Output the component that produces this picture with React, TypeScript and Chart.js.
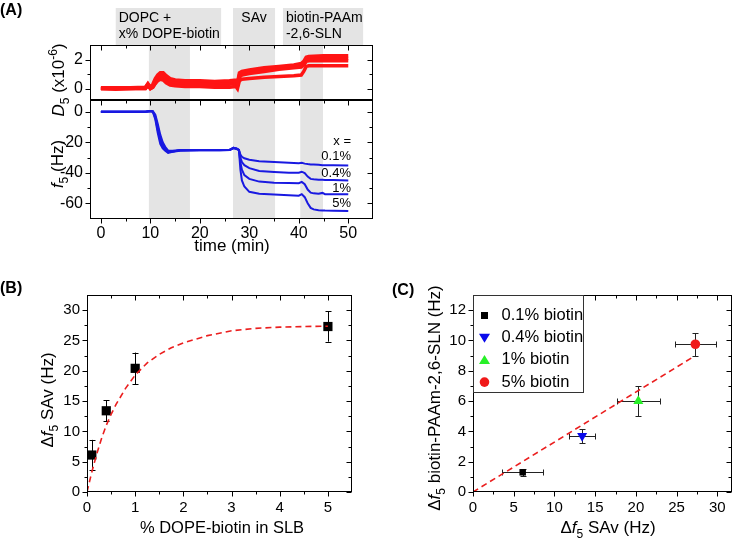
import React, { useEffect, useRef } from "react";
import { Chart, registerables } from "chart.js";
Chart.register(...registerables);

const FONT = '"Liberation Sans", Arial, Helvetica, sans-serif';

// ---------- Panel A data ----------
const timeD5 = [0, 3, 6, 9, 9.5, 10, 10.5, 11, 11.5, 12, 12.6, 13.2, 14, 15, 17, 20, 23, 26, 27.3, 27.6, 28, 28.5, 30, 33, 36, 39, 40.5, 41, 41.5, 42, 45, 48, 50];
const d5TraceA = [0.05, 0.05, 0.05, 0.1, 0.35, 0.1, 0.3, 0.7, 0.95, 1.1, 1.1, 0.9, 0.7, 0.6, 0.55, 0.55, 0.5, 0.55, 0.6, 0.4, 1.1, 1.2, 1.3, 1.45, 1.55, 1.65, 1.75, 1.9, 2.2, 2.25, 2.3, 2.3, 2.3];
const d5TraceB = [0, -0.05, 0, 0.05, 0.3, 0.05, 0.2, 0.55, 0.8, 0.9, 0.9, 0.75, 0.55, 0.45, 0.4, 0.4, 0.4, 0.45, 0.5, 0.3, 0.95, 1.1, 1.2, 1.35, 1.45, 1.55, 1.6, 1.75, 2.05, 2.1, 2.1, 2.1, 2.1];
const d5TraceC = [0, 0, 0, 0, 0.25, 0, 0.1, 0.4, 0.65, 0.75, 0.75, 0.55, 0.35, 0.3, 0.25, 0.25, 0.25, 0.3, 0.35, 0.15, 0.8, 0.95, 1.05, 1.2, 1.35, 1.45, 1.5, 1.65, 1.9, 1.95, 1.95, 1.95, 1.95];
const d5TraceD = [0, 0, 0, 0, 0.2, 0, 0.1, 0.35, 0.55, 0.65, 0.6, 0.4, 0.25, 0.2, 0.15, 0.15, 0.1, 0.1, 0.15, 0.0, 0.55, 0.65, 0.7, 0.8, 0.85, 0.9, 0.95, 1.2, 1.55, 1.6, 1.6, 1.6, 1.6];

const timeF5 = [0, 3, 6, 9, 10, 10.5, 11, 11.5, 12, 12.5, 13, 13.6, 14.5, 16, 20, 24, 26, 26.8, 27.4, 27.9, 28.2, 28.5, 29, 30, 32, 35, 38, 40, 40.6, 41.2, 41.8, 42.4, 43, 44, 44.8, 45.3, 47, 50];
const f5Biotin01 = [0, 0, 0, 0, 0.5, 0.3, -2, -8, -15, -20, -23, -25.5, -25.5, -25, -25, -25, -25, -24, -24, -25, -28, -29.5, -30.5, -31.5, -32.5, -33, -33.5, -33.7, -33.5, -34, -34.3, -34.5, -34.6, -34.8, -35, -35, -35, -35.2];
const f5Biotin04 = [0, 0, 0, 0, 0.5, 0.2, -3, -10, -17, -21.5, -24, -26.5, -26, -25.2, -25, -25, -25, -23.8, -24.2, -25, -30, -33, -35, -37, -38.8, -39.5, -40, -40, -39.3, -40.2, -42.5, -44, -44.3, -44.5, -44.6, -44.7, -44.8, -45];
const f5Biotin1 = [0, 0, 0, 0, 0.4, 0, -4, -12, -19, -23, -25, -26.5, -26, -25.3, -25.2, -25.2, -25, -23.6, -24.3, -25, -33, -38, -41.5, -44, -45.8, -46.5, -46.7, -46.8, -46, -47.5, -51, -53, -53.5, -53.8, -53.2, -54, -54, -54.1];
const f5Biotin5 = [0, 0, 0, 0, 0.4, 0, -5, -14, -21, -24, -25.5, -27, -26.3, -25.5, -25.3, -25.2, -25.1, -23.5, -24.5, -25, -38, -45, -49, -52.5, -53.8, -54.2, -54.7, -55, -54, -56, -60, -63, -64, -64.5, -64.7, -64.8, -64.9, -65];

const concLabels = ["x =", "0.1%", "0.4%", "1%", "5%"];
const bandStarts = [9.7, 26.7, 40.3];
const bandEnds = [18.0, 35.2, 44.9];
const headerStarts = [3.0, 26.7, 36.8];
const headerEnds = [24.3, 35.2, 53.0];
const headerLines = [["DOPC +", "x% DOPE-biotin"], ["SAv"], ["biotin-PAAm", "-2,6-SLN"]];

const timeTicks = [0, 10, 20, 30, 40, 50];
const timeMinor = [5, 15, 25, 35, 45];
const d5Ticks = [0, 2];
const d5Minor = [1];
const f5Ticks = [0, -20, -40, -60];
const f5Minor = [-10, -30, -50];

// ---------- Panel B data ----------
const biotinPct = [0.1, 0.4, 1, 5];
const savShift = [6.1, 13.4, 20.4, 27.3];
const savErr = [2.5, 1.7, 2.6, 2.5];
const fitX = [0, 0.1, 0.2, 0.3, 0.4, 0.5, 0.6, 0.8, 1.0, 1.25, 1.5, 1.75, 2, 2.5, 3, 3.5, 4, 4.5, 5];
const fitY = [0, 3.3, 6.2, 8.8, 11.0, 12.8, 14.4, 17.1, 19.3, 21.3, 22.7, 23.8, 24.6, 25.8, 26.6, 27.0, 27.2, 27.3, 27.35];
const bXTicks = [0, 1, 2, 3, 4, 5];
const bXMinor = [0.5, 1.5, 2.5, 3.5, 4.5];
const bYTicks = [0, 5, 10, 15, 20, 25, 30];
const bYMinor = [2.5, 7.5, 12.5, 17.5, 22.5, 27.5];

// ---------- Panel C data ----------
const cLabels = ["0.1% biotin", "0.4% biotin", "1% biotin", "5% biotin"];
const cSav = [6.1, 13.4, 20.3, 27.3];
const cSavErr = [2.5, 1.6, 2.6, 2.5];
const cSln = [1.3, 3.7, 6.0, 9.75];
const cSlnErr = [0.22, 0.45, 1.0, 0.75];
const cFitX = [0, 27.0];
const cFitY = [0, 8.9];
const cXTicks = [0, 5, 10, 15, 20, 25, 30];
const cXMinor = [2.5, 7.5, 12.5, 17.5, 22.5, 27.5];
const cYTicks = [0, 2, 4, 6, 8, 10, 12];
const cYMinor = [1, 3, 5, 7, 9, 11];

// ---------- helpers ----------
type Seg = { t: string; it?: boolean; sub?: boolean; sup?: boolean };

function drawRich(ctx: CanvasRenderingContext2D, segs: Seg[], cx: number, cy: number, size: number, rotate: boolean) {
  ctx.save();
  ctx.translate(cx, cy);
  if (rotate) ctx.rotate(-Math.PI / 2);
  const fontFor = (s: Seg) => `${s.it ? "italic " : ""}${s.sub || s.sup ? Math.round(size * 0.7) : size}px ${FONT}`;
  let w = 0;
  for (const s of segs) {
    ctx.font = fontFor(s);
    w += ctx.measureText(s.t).width;
  }
  let x = -w / 2;
  ctx.fillStyle = "#000";
  ctx.textBaseline = "alphabetic";
  ctx.textAlign = "left";
  for (const s of segs) {
    ctx.font = fontFor(s);
    const dy = s.sub ? size * 0.28 : s.sup ? -size * 0.42 : 0;
    ctx.fillText(s.t, x, size * 0.36 + dy);
    x += ctx.measureText(s.t).width;
  }
  ctx.restore();
}

function pts(xs: number[], ys: number[]) {
  return xs.map((x, i) => ({ x, y: ys[i] }));
}

function axis(min: number, max: number, ticks: number[], pad: number, fit: (s: any) => void, size = 15, show = true) {
  return {
    type: "linear",
    min,
    max,
    display: true,
    grid: { display: false, drawTicks: false },
    border: { display: false },
    ticks: {
      display: show,
      color: "#000",
      font: { family: FONT, size },
      padding: pad,
      autoSkip: false,
      maxRotation: 0,
      callback: (v: any) => String(v),
    },
    afterBuildTicks: (s: any) => {
      s.ticks = ticks.map((v) => ({ value: v }));
    },
    afterFit: fit,
  };
}

function framePlugin(o: { xMaj: number[]; xMin: number[]; yMaj: number[]; yMin: number[]; top: boolean; bottom: boolean }) {
  return {
    id: "frame",
    afterDatasetsDraw(chart: any) {
      const { ctx, chartArea: a, scales } = chart;
      const x = scales.x, y = scales.y;
      ctx.save();
      ctx.strokeStyle = "#000";
      ctx.lineWidth = 1;
      const L = Math.round(a.left) + 0.5, R = Math.round(a.right) - 0.5, T = Math.round(a.top) + 0.5, B = Math.round(a.bottom) - 0.5;
      ctx.strokeRect(L, T, R - L, B - T);
      ctx.beginPath();
      const xt = (vals: number[], len: number) => {
        for (const v of vals) {
          const p = Math.round(x.getPixelForValue(v)) + 0.5;
          if (o.bottom) { ctx.moveTo(p, B); ctx.lineTo(p, B + len); }
          if (o.top) { ctx.moveTo(p, T); ctx.lineTo(p, T + len); }
        }
      };
      const yt = (vals: number[], len: number) => {
        for (const v of vals) {
          const p = Math.round(y.getPixelForValue(v)) + 0.5;
          ctx.moveTo(L - len, p); ctx.lineTo(L, p);
          ctx.moveTo(R - len, p); ctx.lineTo(R, p);
        }
      };
      xt(o.xMaj, 5); xt(o.xMin, 3); yt(o.yMaj, 5); yt(o.yMin, 3);
      ctx.stroke();
      ctx.restore();
    },
  };
}

const bandPlugin = {
  id: "bands",
  beforeDatasetsDraw(chart: any) {
    const { ctx, chartArea: a, scales } = chart;
    ctx.save();
    ctx.fillStyle = "#e4e4e4";
    bandStarts.forEach((s, i) => {
      const x1 = scales.x.getPixelForValue(s), x2 = scales.x.getPixelForValue(bandEnds[i]);
      ctx.fillRect(x1, a.top, x2 - x1, a.bottom - a.top);
    });
    ctx.restore();
  },
};

const baseOpts = (padding: any, scales: any) => ({
  responsive: false,
  animation: false,
  events: [],
  layout: { padding },
  plugins: { legend: { display: false }, tooltip: { enabled: false } },
  scales,
});

export default function App() {
  const r1 = useRef<HTMLCanvasElement>(null);
  const r2 = useRef<HTMLCanvasElement>(null);
  const r3 = useRef<HTMLCanvasElement>(null);
  const r4 = useRef<HTMLCanvasElement>(null);

  useEffect(() => {
    const charts: Chart[] = [];
    const red = "rgb(255,20,20)";
    const blue = "rgb(25,25,225)";

    // ---- A top: D5 ----
    charts.push(
      new Chart(r1.current as HTMLCanvasElement, {
        type: "scatter",
        data: {
          datasets: [d5TraceA, d5TraceB, d5TraceC, d5TraceD].map((ys) => ({
            data: pts(timeD5, ys),
            showLine: true,
            borderColor: red,
            borderWidth: 3.5,
            pointRadius: 0,
            tension: 0,
          })),
        },
        options: {
          ...baseOpts({ left: 0, top: 45, right: 365, bottom: 438 }, {
            x: { ...axis(-2.2, 55, timeTicks, 0, () => {}, 16, false), display: false },
            y: axis(-0.8, 3.05, d5Ticks, 7, (s: any) => { s.width = 90; }, 16),
          }),
        } as any,
        plugins: [
          bandPlugin,
          framePlugin({ xMaj: timeTicks, xMin: timeMinor, yMaj: d5Ticks, yMin: d5Minor, top: true, bottom: false }),
          {
            id: "headerA",
            afterDraw(chart: any) {
              const { ctx, scales } = chart;
              ctx.save();
              headerStarts.forEach((s, i) => {
                const x1 = scales.x.getPixelForValue(s), x2 = scales.x.getPixelForValue(headerEnds[i]);
                ctx.fillStyle = "#e4e4e4";
                ctx.fillRect(x1, 8, x2 - x1, 37);
                ctx.fillStyle = "#000";
                ctx.font = `14px ${FONT}`;
                ctx.textBaseline = "middle";
                const lines = headerLines[i];
                lines.forEach((t, j) => {
                  if (lines.length === 1) {
                    ctx.textAlign = "center";
                    ctx.fillText(t, (x1 + x2) / 2, 18);
                  } else {
                    ctx.textAlign = "left";
                    ctx.fillText(t, x1 + 3, 18 + j * 16);
                  }
                });
              });
              ctx.font = `bold 16px ${FONT}`;
              ctx.textAlign = "left";
              ctx.textBaseline = "alphabetic";
              ctx.fillText("(A)", 0, 15);
              drawRich(ctx, [{ t: "D", it: true }, { t: "5", sub: true }, { t: " (x10" }, { t: "-6", sup: true }, { t: ")" }], 58, 80, 17, true);
              ctx.restore();
            },
          },
        ],
      } as any)
    );

    // ---- A bottom: f5 ----
    charts.push(
      new Chart(r2.current as HTMLCanvasElement, {
        type: "scatter",
        data: {
          datasets: [f5Biotin01, f5Biotin04, f5Biotin1, f5Biotin5].map((ys) => ({
            data: pts(timeF5, ys),
            showLine: true,
            borderColor: blue,
            borderWidth: 2,
            pointRadius: 0,
            tension: 0,
          })),
        },
        options: {
          ...baseOpts({ left: 0, top: 100, right: 365, bottom: 289 }, {
            x: axis(-2.2, 55, timeTicks, 5, (s: any) => { s.height = 30; }, 16),
            y: axis(-70.3, 7.7, f5Ticks, 7, (s: any) => { s.width = 90; }, 16),
          }),
        } as any,
        plugins: [
          bandPlugin,
          framePlugin({ xMaj: timeTicks, xMin: timeMinor, yMaj: f5Ticks, yMin: f5Minor, top: true, bottom: true }),
          {
            id: "labelsA",
            afterDraw(chart: any) {
              const { ctx, chartArea: a } = chart;
              ctx.save();
              ctx.fillStyle = "#000";
              ctx.font = `13px ${FONT}`;
              ctx.textAlign = "right";
              ctx.textBaseline = "middle";
              const ys = [141, 156, 173, 188, 203];
              concLabels.forEach((t, i) => ctx.fillText(t, a.right - 22, ys[i]));
              ctx.font = `17px ${FONT}`;
              ctx.textAlign = "center";
              ctx.textBaseline = "alphabetic";
              ctx.fillText("time (min)", 232, 251);
              drawRich(ctx, [{ t: "f", it: true }, { t: "5", sub: true }, { t: " (Hz)" }], 57, 164, 17, true);
              ctx.restore();
            },
          },
        ],
      } as any)
    );

    // ---- B ----
    charts.push(
      new Chart(r3.current as HTMLCanvasElement, {
        type: "scatter",
        data: {
          datasets: [
            {
              data: pts(fitX, fitY),
              showLine: true,
              borderColor: "rgb(235,30,30)",
              borderWidth: 1.6,
              borderDash: [6, 4],
              pointRadius: 0,
              order: 0,
            },
            {
              data: pts(biotinPct, savShift),
              pointStyle: "rect",
              pointRadius: 6.5,
              pointBackgroundColor: "#000",
              pointBorderColor: "#000",
              pointBorderWidth: 0,
              order: 1,
            },
          ],
        },
        options: {
          ...baseOpts({ left: 0, top: 295, right: 386, bottom: 16 }, {
            x: axis(0, 5.5, bXTicks, 7, (s: any) => { s.height = 30; }),
            y: axis(0, 32.5, bYTicks, 7, (s: any) => { s.width = 87; }),
          }),
        } as any,
        plugins: [
          {
            id: "errB",
            beforeDatasetsDraw(chart: any) {
              const { ctx, scales } = chart;
              ctx.save();
              ctx.strokeStyle = "#000";
              ctx.lineWidth = 1;
              ctx.beginPath();
              biotinPct.forEach((xv, i) => {
                const px = Math.round(scales.x.getPixelForValue(xv)) + 0.5;
                const y1 = scales.y.getPixelForValue(savShift[i] - savErr[i]);
                const y2 = scales.y.getPixelForValue(savShift[i] + savErr[i]);
                ctx.moveTo(px, y1); ctx.lineTo(px, y2);
                ctx.moveTo(px - 3, Math.round(y1) + 0.5); ctx.lineTo(px + 3, Math.round(y1) + 0.5);
                ctx.moveTo(px - 3, Math.round(y2) + 0.5); ctx.lineTo(px + 3, Math.round(y2) + 0.5);
              });
              ctx.stroke();
              ctx.restore();
            },
          },
          framePlugin({ xMaj: bXTicks, xMin: bXMinor, yMaj: bYTicks, yMin: bYMinor, top: true, bottom: true }),
          {
            id: "titlesB",
            afterDraw(chart: any) {
              const { ctx } = chart;
              ctx.save();
              ctx.fillStyle = "#000";
              ctx.font = `bold 16px ${FONT}`;
              ctx.textAlign = "left";
              ctx.fillText("(B)", 0, 293);
              ctx.font = `16.5px ${FONT}`;
              ctx.textAlign = "center";
              ctx.fillText("% DOPE-biotin in SLB", 222, 533);
              drawRich(ctx, [{ t: "Δ" }, { t: "f", it: true }, { t: "5", sub: true }, { t: " SAv (Hz)" }], 47, 400, 17, true);
              ctx.restore();
            },
          },
        ],
      } as any)
    );

    // ---- C ----
    const cColors = ["#000000", "rgb(10,10,235)", "rgb(40,240,40)", "rgb(240,25,25)"];
    const cStyles = ["rect", "triangle", "triangle", "circle"];
    const cRot = [0, 180, 0, 0];
    const cRad = [4.6, 5.8, 5.8, 4.8];
    charts.push(
      new Chart(r4.current as HTMLCanvasElement, {
        type: "scatter",
        data: {
          datasets: [
            {
              data: pts(cFitX, cFitY),
              showLine: true,
              borderColor: "rgb(235,30,30)",
              borderWidth: 1.6,
              borderDash: [6, 4],
              pointRadius: 0,
              order: 0,
            },
            ...cSav.map((xv, i) => ({
              data: [{ x: xv, y: cSln[i] }],
              pointStyle: cStyles[i],
              pointRotation: cRot[i],
              pointRadius: cRad[i],
              pointBackgroundColor: cColors[i],
              pointBorderColor: cColors[i],
              pointBorderWidth: 0,
              order: 1,
            })),
          ],
        },
        options: {
          ...baseOpts({ left: 413, top: 295, right: 6, bottom: 16 }, {
            x: axis(0, 31.8, cXTicks, 7, (s: any) => { s.height = 30; }),
            y: axis(0, 13, cYTicks, 7, (s: any) => { s.width = 60; }),
          }),
        } as any,
        plugins: [
          {
            id: "errC",
            beforeDatasetsDraw(chart: any) {
              const { ctx, scales } = chart;
              ctx.save();
              ctx.strokeStyle = "#222";
              ctx.lineWidth = 1;
              ctx.beginPath();
              cSav.forEach((xv, i) => {
                const px = Math.round(scales.x.getPixelForValue(xv)) + 0.5;
                const py = Math.round(scales.y.getPixelForValue(cSln[i])) + 0.5;
                const y1 = Math.round(scales.y.getPixelForValue(cSln[i] - cSlnErr[i])) + 0.5;
                const y2 = Math.round(scales.y.getPixelForValue(cSln[i] + cSlnErr[i])) + 0.5;
                const x1 = Math.round(scales.x.getPixelForValue(xv - cSavErr[i])) + 0.5;
                const x2 = Math.round(scales.x.getPixelForValue(xv + cSavErr[i])) + 0.5;
                ctx.moveTo(px, y1); ctx.lineTo(px, y2);
                ctx.moveTo(px - 3, y1); ctx.lineTo(px + 3, y1);
                ctx.moveTo(px - 3, y2); ctx.lineTo(px + 3, y2);
                ctx.moveTo(x1, py); ctx.lineTo(x2, py);
                ctx.moveTo(x1, py - 3); ctx.lineTo(x1, py + 3);
                ctx.moveTo(x2, py - 3); ctx.lineTo(x2, py + 3);
              });
              ctx.stroke();
              ctx.restore();
            },
          },
          framePlugin({ xMaj: cXTicks, xMin: cXMinor, yMaj: cYTicks, yMin: cYMinor, top: true, bottom: true }),
          {
            id: "legendC",
            afterDraw(chart: any) {
              const { ctx, chartArea: a } = chart;
              ctx.save();
              const L = Math.round(a.left) + 0.5, T = Math.round(a.top) + 0.5;
              ctx.fillStyle = "#fff";
              ctx.fillRect(L, T, 110, 97);
              ctx.strokeStyle = "#333";
              ctx.lineWidth = 1;
              ctx.strokeRect(L, T, 110, 97);
              cLabels.forEach((t, i) => {
                const yy = T + 20 + i * 22.2;
                const xx = L + 11;
                ctx.fillStyle = cColors[i];
                ctx.beginPath();
                if (i === 0) ctx.rect(xx - 3.5, yy - 3.5, 7, 7);
                else if (i === 1) { ctx.moveTo(xx, yy + 5); ctx.lineTo(xx + 5.5, yy - 4); ctx.lineTo(xx - 5.5, yy - 4); ctx.closePath(); }
                else if (i === 2) { ctx.moveTo(xx, yy - 5); ctx.lineTo(xx + 5.5, yy + 4); ctx.lineTo(xx - 5.5, yy + 4); ctx.closePath(); }
                else ctx.arc(xx, yy, 4.8, 0, Math.PI * 2);
                ctx.fill();
                ctx.fillStyle = "#000";
                ctx.font = `16.5px ${FONT}`;
                ctx.textAlign = "left";
                ctx.textBaseline = "middle";
                ctx.fillText(t, L + 28, yy);
              });
              ctx.font = `bold 16px ${FONT}`;
              ctx.textBaseline = "alphabetic";
              ctx.fillText("(C)", 392, 295);
              drawRich(ctx, [{ t: "Δ" }, { t: "f", it: true }, { t: "5", sub: true }, { t: " SAv (Hz)" }], 608, 527, 17, false);
              drawRich(ctx, [{ t: "Δ" }, { t: "f", it: true }, { t: "5", sub: true }, { t: " biotin-PAAm-2,6-SLN (Hz)" }], 434, 398, 17, true);
              ctx.restore();
            },
          },
        ],
      } as any)
    );

    return () => charts.forEach((c) => c.destroy());
  }, []);

  const cs: React.CSSProperties = { position: "absolute", left: 0, top: 0 };
  return (
    <div style={{ position: "fixed", left: 0, top: 0, width: 738, height: 538, background: "#fff", overflow: "hidden" }}>
      <canvas ref={r1} width={738} height={538} style={cs} />
      <canvas ref={r2} width={738} height={538} style={cs} />
      <canvas ref={r3} width={738} height={538} style={cs} />
      <canvas ref={r4} width={738} height={538} style={cs} />
    </div>
  );
}
